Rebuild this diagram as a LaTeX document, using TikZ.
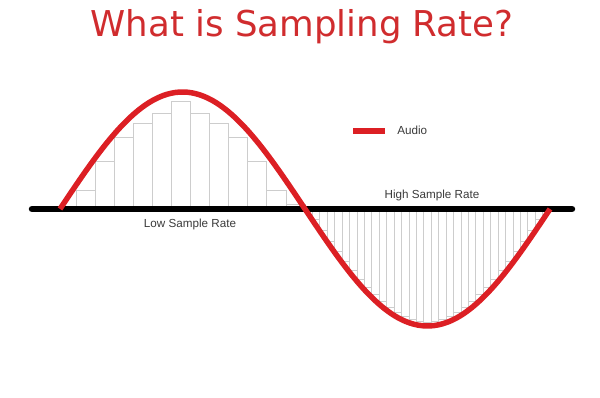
\documentclass[tikz,border=0pt]{standalone}
\usepackage{fontspec}
\setmainfont{Liberation Sans}
\newfontfamily\titlefont{DejaVu Sans}
\usetikzlibrary{positioning}
\definecolor{audiored}{HTML}{DC1F24}
\definecolor{titlered}{HTML}{D02C2E}
\definecolor{barline}{HTML}{CDCDCD}
\definecolor{labelgray}{HTML}{3A3A3A}
\tikzset{line width=.8pt,
  axis/.style={draw=black,line width=4.6pt,line cap=round},
  wave/.style={draw=audiored,line width=3.9pt},
  bar/.style={draw=barline,line width=.5pt},
  legendline/.style={draw=audiored,line width=4.5pt},
  ratelabel/.style={font=\fontsize{8.3}{10}\selectfont,text=labelgray,anchor=base,inner sep=0pt}}
\begin{document}
\begin{tikzpicture}[x=.025cm,y=.025cm]
\useasboundingbox (0,0) rectangle (600,398);
\node[titlered,anchor=base,font=\titlefont\fontsize{25.3}{30}\selectfont,inner sep=0pt] (title) at (302,361) {What is Sampling Rate?};
\foreach \h [count=\i from 0] in {19,48,72,86,96,108,96,86,72,48,19,5}
  \draw[bar] ({76+19.08*\i},189) rectangle ++(19.08,\h);
\foreach \d [count=\j from 0] in {0,10.8,21.5,32.0,42.2,52.0,61.4,70.2,78.3,85.8,92.5,98.3,103.2,107.3,110.3,112.3,113.4,112.3,110.3,107.3,103.2,98.3,92.5,85.8,78.3,70.2,61.4,52.0,42.2,32.0,21.5,10.8,0}
  \draw[bar] ({305+7.424*\j},189) rectangle ++(7.424,-\d);
\coordinate (axL) at (32,189);\coordinate (axR) at (572,189);
\draw[axis] (axL)--(axR);
\draw[wave] plot[domain=0:360,samples=120,smooth] ({60+1.3611*\x},{189+117*sin(\x)});
\node[ratelabel] (low) at (190,170) {Low Sample Rate};
\node[ratelabel] (high) at (432,199) {High Sample Rate};
\node[ratelabel,anchor=base west] (audio) at (397,263) {Audio};
\draw[legendline] ([xshift=-.3cm]audio.west)--++(-32,0);
\end{tikzpicture}
\end{document}
